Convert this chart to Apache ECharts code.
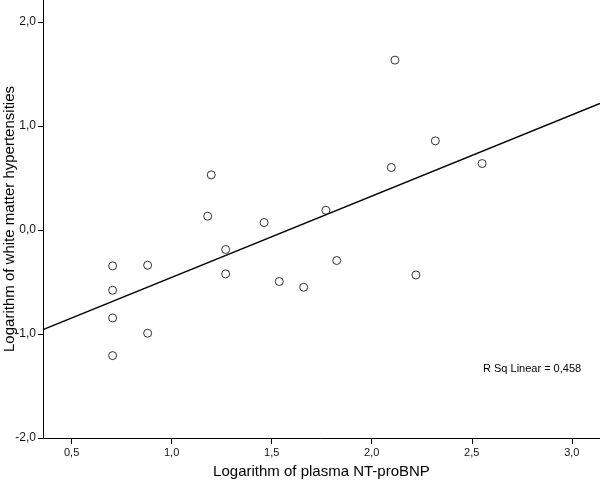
<!DOCTYPE html>
<html>
<head>
<meta charset="utf-8">
<script src="https://cdn.jsdelivr.net/npm/echarts@6/dist/echarts.min.js"></script>
<style>html,body{margin:0;padding:0;background:#fff}#c{width:600px;height:480px}</style>
</head>
<body>
<div id="c"></div>
<script>
// Data
var logNTproBNP = [0.705, 0.705, 0.705, 0.705, 0.880, 0.880, 1.198, 1.180, 1.270, 1.270,
                   1.462, 1.538, 1.660, 1.771, 1.825, 2.098, 2.116, 2.221, 2.318, 2.552];
var logWMH      = [-0.346, -0.580, -0.846, -1.208, -0.339, -0.993, 0.529, 0.132, -0.188, -0.423,
                   0.071, -0.496, -0.551, 0.189, -0.294, 0.600, 1.632, -0.433, 0.856, 0.638];
var xTicks = [0.5, 1.0, 1.5, 2.0, 2.5, 3.0];
var yTicks = [-2.0, -1.0, 0.0, 1.0, 2.0];
var xRange = [0.357, 3.141];
var yRange = [-2.0, 2.21];
var rSqLabel = 'R Sq Linear = 0,458';

// least-squares fit line
var n = logNTproBNP.length, mx = 0, my = 0;
for (var i = 0; i < n; i++) { mx += logNTproBNP[i]; my += logWMH[i]; }
mx /= n; my /= n;
var sxy = 0, sxx = 0;
for (var i = 0; i < n; i++) { sxy += (logNTproBNP[i]-mx)*(logWMH[i]-my); sxx += (logNTproBNP[i]-mx)*(logNTproBNP[i]-mx); }
var slope = sxy / sxx, icpt = my - slope * mx;
var fitLine = [[xRange[0], icpt + slope*xRange[0]], [xRange[1], icpt + slope*xRange[1]]];

var pts = logNTproBNP.map(function (x, i) { return [x, logWMH[i]]; });
function fmt(v) { return v.toFixed(1).replace('.', ','); }
var font = 'Arial, "Liberation Sans", sans-serif';

var chart = echarts.init(document.getElementById('c'), null, {renderer: 'canvas'});
chart.setOption({
  animation: false,
  backgroundColor: '#fff',
  grid: {left: 43, right: 0, top: 0, bottom: 42, containLabel: false, outerBoundsMode: 'none'},
  xAxis: {
    type: 'value', min: xRange[0], max: xRange[1],
    name: 'Logarithm of plasma NT-proBNP', nameLocation: 'middle', nameGap: 26, nameMoveOverlap: false,
    nameTextStyle: {fontSize: 15, color: '#000', fontFamily: font},
    axisLine: {show: true, onZero: false, lineStyle: {color: '#000', width: 1}},
    axisTick: {show: true, length: 6, customValues: xTicks, lineStyle: {color: '#000'}},
    axisLabel: {customValues: xTicks, formatter: fmt, fontSize: 11, color: '#111', margin: 9, fontFamily: font},
    splitLine: {show: false}
  },
  yAxis: {
    type: 'value', min: yRange[0], max: yRange[1],
    name: 'Logarithm of white matter hypertensities', nameLocation: 'middle', nameGap: 26, nameMoveOverlap: false,
    nameTextStyle: {fontSize: 15, color: '#000', fontFamily: font},
    axisLine: {show: true, onZero: false, lineStyle: {color: '#000', width: 1}},
    axisTick: {show: true, length: 5, customValues: yTicks, lineStyle: {color: '#000'}},
    axisLabel: {customValues: yTicks, formatter: fmt, fontSize: 12, color: '#111', margin: 7, fontFamily: font},
    splitLine: {show: false}
  },
  series: [
    {type: 'line', data: fitLine, symbol: 'none', lineStyle: {color: '#000', width: 1.5}, z: 2},
    {type: 'scatter', data: pts, symbol: 'circle', symbolSize: 8,
     itemStyle: {color: '#fff', borderColor: '#000', borderWidth: 1}, z: 3}
  ],
  graphic: [{
    type: 'text', left: 483, top: 363,
    style: {text: rSqLabel, fill: '#000', font: '11px ' + font}
  }]
});
</script>
</body>
</html>
